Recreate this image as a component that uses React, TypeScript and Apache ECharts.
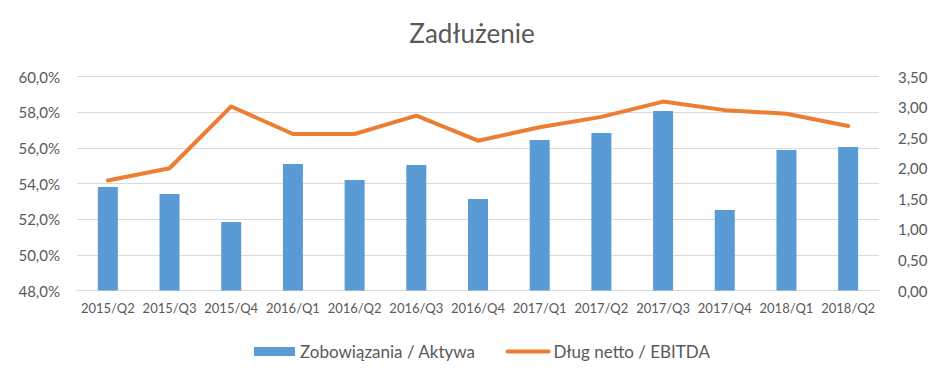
import React, { useEffect, useRef } from 'react';
import * as echarts from 'echarts';

const categories = ['2015/Q2', '2015/Q3', '2015/Q4', '2016/Q1', '2016/Q2', '2016/Q3', '2016/Q4', '2017/Q1', '2017/Q2', '2017/Q3', '2017/Q4', '2018/Q1', '2018/Q2'];
const liabilitiesToAssets = [53.8, 53.41, 51.84, 55.09, 54.2, 55.04, 53.13, 56.44, 56.83, 58.07, 52.51, 55.88, 56.05];
const netDebtToEbitda = [1.8, 2.0, 3.01, 2.56, 2.56, 2.86, 2.45, 2.67, 2.84, 3.09, 2.95, 2.89, 2.69];
const seriesNames = ['Zobowiązania / Aktywa', 'Dług netto / EBITDA'];
const titleText = 'Zadłużenie';

const FONT = 'Lato';
const TEXT = '#595959';
const GRID = '#D9D9D9';

export default function App() {
  const ref = useRef<HTMLDivElement>(null);
  useEffect(() => {
    document.body.style.margin = '0';
    if (!ref.current) return;
    const chart = echarts.init(ref.current, undefined, { renderer: 'svg' });
    chart.setOption({
      animation: false,
      backgroundColor: '#ffffff',
      textStyle: { fontFamily: FONT, color: TEXT },
      title: {
        text: titleText,
        left: 'center',
        top: 15,
        textStyle: { fontFamily: FONT, fontSize: 26, fontWeight: 'normal', color: TEXT },
      },
      legend: {
        top: 338,
        left: 249,
        itemGap: 30,
        itemWidth: 41,
        itemHeight: 9,
        textStyle: { fontFamily: FONT, fontSize: 17, color: TEXT },
        data: [
          { name: seriesNames[0], icon: 'rect' },
          {
            name: seriesNames[1],
            itemStyle: { color: 'rgba(0,0,0,0)', borderColor: 'rgba(0,0,0,0)', borderWidth: 0 },
            lineStyle: { color: '#ED7D31', width: 4, cap: 'round' },
          },
        ],
      },
      grid: { left: 77, right: 65, top: 76.5, bottom: 88.5 },
      xAxis: {
        type: 'category',
        data: categories,
        axisTick: { show: false },
        axisLine: { lineStyle: { color: GRID, width: 1 } },
        axisLabel: { fontFamily: FONT, fontSize: 13, color: TEXT, margin: 11, interval: 0 },
      },
      yAxis: [
        {
          type: 'value',
          min: 48,
          max: 60,
          interval: 2,
          axisLine: { show: false },
          axisTick: { show: false },
          splitLine: { lineStyle: { color: GRID, width: 1 } },
          axisLabel: {
            fontFamily: FONT,
            fontSize: 15,
            color: TEXT,
            margin: 17,
            formatter: (v: number) => v.toFixed(1).replace('.', ',') + '%',
          },
        },
        {
          type: 'value',
          min: 0,
          max: 3.5,
          interval: 0.5,
          axisLine: { show: false },
          axisTick: { show: false },
          splitLine: { show: false },
          axisLabel: {
            fontFamily: FONT,
            fontSize: 15,
            color: TEXT,
            margin: 19,
            formatter: (v: number) => v.toFixed(2).replace('.', ','),
          },
        },
      ],
      series: [
        {
          name: seriesNames[0],
          type: 'bar',
          data: liabilitiesToAssets,
          barWidth: 20,
          itemStyle: { color: '#5B9BD5' },
        },
        {
          name: seriesNames[1],
          type: 'line',
          yAxisIndex: 1,
          data: netDebtToEbitda,
          showSymbol: false,
          symbol: 'none',
          lineStyle: { color: '#ED7D31', width: 4, cap: 'round', join: 'round' },
          itemStyle: { color: '#ED7D31' },
        },
      ],
    });
    return () => chart.dispose();
  }, []);
  return <div ref={ref} style={{ width: 944, height: 379 }} />;
}
